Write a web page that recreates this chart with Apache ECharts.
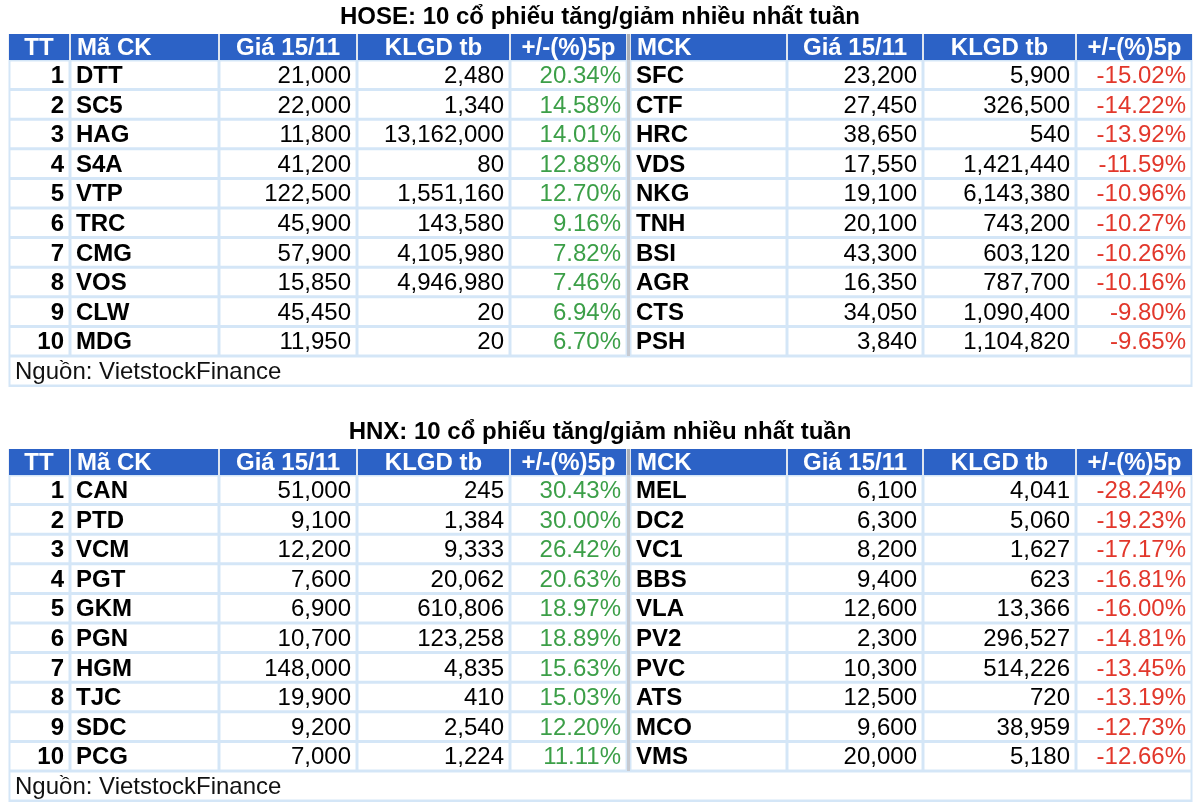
<!DOCTYPE html>
<html>
<head>
<meta charset="utf-8">
<script src="https://cdn.jsdelivr.net/npm/echarts@6/dist/echarts.min.js"></script>
<style>html,body{margin:0;padding:0;background:#fff;}#main{width:1200px;height:810px;}</style>
</head>
<body>
<div id="main"></div>
<script>
// ---------- DATA ----------
const titles = ['HOSE: 10 cổ phiếu tăng/giảm nhiều nhất tuần', 'HNX: 10 cổ phiếu tăng/giảm nhiều nhất tuần'];
const headers = ['TT', 'Mã CK', 'Giá 15/11', 'KLGD tb', '+/-(%)5p', 'MCK', 'Giá 15/11', 'KLGD tb', '+/-(%)5p'];
const sourceText = 'Nguồn: VietstockFinance';

const hoseUpCodes = ['DTT', 'SC5', 'HAG', 'S4A', 'VTP', 'TRC', 'CMG', 'VOS', 'CLW', 'MDG'];
const hoseUpPrice = [21000, 22000, 11800, 41200, 122500, 45900, 57900, 15850, 45450, 11950];
const hoseUpVol = [2480, 1340, 13162000, 80, 1551160, 143580, 4105980, 4946980, 20, 20];
const hoseUpChg = [20.34, 14.58, 14.01, 12.88, 12.70, 9.16, 7.82, 7.46, 6.94, 6.70];

const hoseDownCodes = ['SFC', 'CTF', 'HRC', 'VDS', 'NKG', 'TNH', 'BSI', 'AGR', 'CTS', 'PSH'];
const hoseDownPrice = [23200, 27450, 38650, 17550, 19100, 20100, 43300, 16350, 34050, 3840];
const hoseDownVol = [5900, 326500, 540, 1421440, 6143380, 743200, 603120, 787700, 1090400, 1104820];
const hoseDownChg = [-15.02, -14.22, -13.92, -11.59, -10.96, -10.27, -10.26, -10.16, -9.80, -9.65];

const hnxUpCodes = ['CAN', 'PTD', 'VCM', 'PGT', 'GKM', 'PGN', 'HGM', 'TJC', 'SDC', 'PCG'];
const hnxUpPrice = [51000, 9100, 12200, 7600, 6900, 10700, 148000, 19900, 9200, 7000];
const hnxUpVol = [245, 1384, 9333, 20062, 610806, 123258, 4835, 410, 2540, 1224];
const hnxUpChg = [30.43, 30.00, 26.42, 20.63, 18.97, 18.89, 15.63, 15.03, 12.20, 11.11];

const hnxDownCodes = ['MEL', 'DC2', 'VC1', 'BBS', 'VLA', 'PV2', 'PVC', 'ATS', 'MCO', 'VMS'];
const hnxDownPrice = [6100, 6300, 8200, 9400, 12600, 2300, 10300, 12500, 9600, 20000];
const hnxDownVol = [4041, 5060, 1627, 623, 13366, 296527, 514226, 720, 38959, 5180];
const hnxDownChg = [-28.24, -19.23, -17.17, -16.81, -16.00, -14.81, -13.45, -13.19, -12.73, -12.66];

// ---------- LAYOUT ----------
const COL_EDGES = [9, 70, 219, 357, 510, 627, 787, 923, 1076, 1192];
const MID_GAP = [627, 630];
const HEAD_ALIGN = ['center', 'left', 'center', 'center', 'center', 'left', 'center', 'center', 'center'];
const BODY_ALIGN = ['right', 'left', 'right', 'right', 'right', 'left', 'right', 'right', 'right'];
const TABLE_TOPS = [34, 449];
const HEAD_H = 26, ROW_H = 29.6, SRC_H = 30;
const BLUE = '#2c62c6', BORDER = '#d4e6f7', GREEN = '#3c9f48', RED = '#e2372b';
const FONT = '"Liberation Sans", Arial, sans-serif';

const fmt = v => v.toLocaleString('en-US');
const pct = v => v.toFixed(2) + '%';

const tables = [
  { up: [hoseUpCodes, hoseUpPrice, hoseUpVol, hoseUpChg], down: [hoseDownCodes, hoseDownPrice, hoseDownVol, hoseDownChg] },
  { up: [hnxUpCodes, hnxUpPrice, hnxUpVol, hnxUpChg], down: [hnxDownCodes, hnxDownPrice, hnxDownVol, hnxDownChg] }
];

const cells = [];
function colX0(c) { return c === 5 ? MID_GAP[1] : COL_EDGES[c]; }
function colX1(c) { return COL_EDGES[c + 1]; }

tables.forEach((t, ti) => {
  const T = TABLE_TOPS[ti];
  const bodyTop = T + HEAD_H;
  const bodyBot = bodyTop + ROW_H * 10 + SRC_H;
  // backgrounds
  cells.push({ x0: COL_EDGES[0] - 0.5, x1: COL_EDGES[9] + 0.5, y0: T, y1: T + HEAD_H, fill: '#dfe5ef', inset: 0 });
  cells.push({ x0: COL_EDGES[0] - 0.5, x1: COL_EDGES[9] + 0.5, y0: bodyTop, y1: bodyBot + 1, fill: BORDER, inset: 0 });
  // header
  headers.forEach((h, c) => {
    cells.push({ x0: colX0(c) + (c ? 1 : 0), x1: colX1(c) - (c < 8 ? 1 : 0), y0: T, y1: T + HEAD_H, fill: BLUE, inset: 0,
      text: h, color: '#fff', weight: 'bold', size: 24, align: HEAD_ALIGN[c] });
  });
  // body
  for (let i = 0; i < 10; i++) {
    const y0 = bodyTop + ROW_H * i, y1 = y0 + ROW_H;
    const vals = [String(i + 1), t.up[0][i], fmt(t.up[1][i]), fmt(t.up[2][i]), pct(t.up[3][i]),
      t.down[0][i], fmt(t.down[1][i]), fmt(t.down[2][i]), pct(t.down[3][i])];
    vals.forEach((v, c) => {
      let color = '#000';
      if (c === 4) color = GREEN;
      if (c === 8) color = RED;
      const bold = (c === 0 || c === 1 || c === 5);
      cells.push({ x0: colX0(c), x1: colX1(c), y0, y1, fill: '#fff', inset: 1.5,
        text: v, color, weight: bold ? 'bold' : 'normal', size: 24, align: BODY_ALIGN[c] });
    });
  }
  // middle separator
  cells.push({ x0: MID_GAP[0], x1: MID_GAP[1], y0: T, y1: T + HEAD_H, fill: '#a9aeb7', inset: 0 });
  cells.push({ x0: MID_GAP[0], x1: MID_GAP[1], y0: bodyTop, y1: bodyTop + ROW_H * 10, fill: '#c6cad1', inset: 0 });
  // source row
  const sy0 = bodyTop + ROW_H * 10;
  cells.push({ x0: COL_EDGES[0], x1: COL_EDGES[9], y0: sy0, y1: sy0 + SRC_H, fill: '#fff', inset: 1.5,
    text: sourceText, color: '#111', weight: 'normal', size: 24, align: 'left' });
});

function renderItem(params, api) {
  const c = cells[params.dataIndex];
  const p0 = api.coord([c.x0, c.y0]);
  const p1 = api.coord([c.x1, c.y1]);
  const x = p0[0], y = p0[1], w = p1[0] - p0[0], h = p1[1] - p0[1];
  const children = [];
  if (c.fill) {
    children.push({ type: 'rect', shape: { x: x + c.inset, y: y + c.inset, width: w - 2 * c.inset, height: h - 2 * c.inset },
      style: { fill: c.fill } });
  }
  if (c.text != null) {
    let tx;
    if (c.align === 'left') tx = x + 6;
    else if (c.align === 'right') tx = x + w - 6;
    else tx = x + w / 2;
    children.push({ type: 'text', x: tx, y: y + h / 2 + 1.5,
      style: { text: c.text, fill: c.color, font: c.weight + ' ' + c.size + 'px ' + FONT,
        align: c.align, verticalAlign: 'middle', textAlign: c.align, textVerticalAlign: 'middle' } });
  }
  return { type: 'group', children };
}

const chart = echarts.init(document.getElementById('main'), null, { renderer: 'canvas' });
chart.setOption({
  animation: false,
  backgroundColor: '#fff',
  title: titles.map((t, i) => ({
    text: t, left: 'center', top: TABLE_TOPS[i] - 29, padding: 0,
    textStyle: { fontSize: 24, fontWeight: 'bold', color: '#000', fontFamily: FONT }
  })),
  grid: { left: 0, right: 0, top: 0, bottom: 0 },
  xAxis: { type: 'value', min: 0, max: 1200, show: false },
  yAxis: { type: 'value', min: 0, max: 810, inverse: true, show: false },
  series: [{
    type: 'custom', silent: true, clip: false,
    renderItem,
    data: cells.map((c, i) => [i])
  }]
});
</script>
</body>
</html>
